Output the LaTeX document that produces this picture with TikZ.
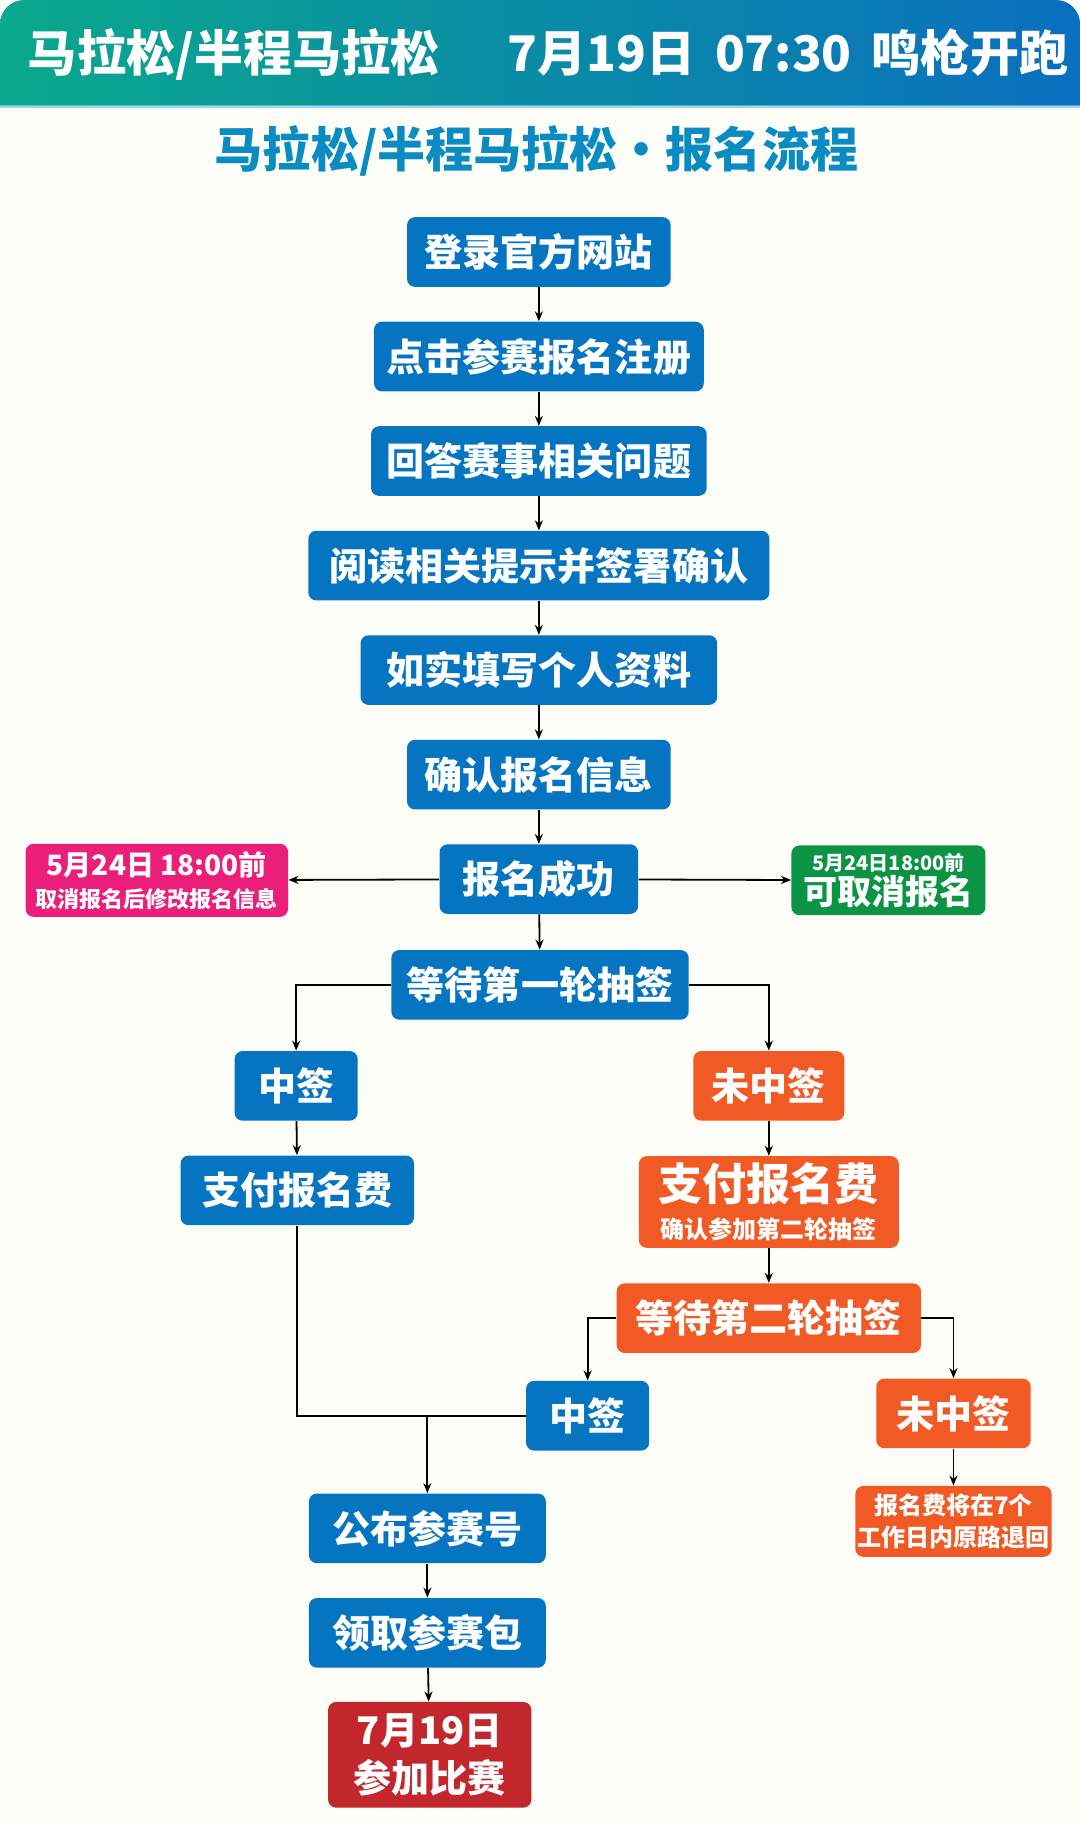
\documentclass[tikz,border=0pt]{standalone}
\usepackage{fontspec}
\setmainfont{Noto Sans CJK SC}
\usetikzlibrary{arrows.meta}
\definecolor{bgc}{HTML}{FDFDF8}
\definecolor{stepblue}{HTML}{0675C1}
\definecolor{failorange}{HTML}{F15A24}
\definecolor{notepink}{HTML}{EB1E79}
\definecolor{notegreen}{HTML}{0B9444}
\definecolor{raced}{HTML}{C1272D}
\definecolor{headteal}{HTML}{0AA88C}
\definecolor{headsky}{HTML}{049DDF}
\definecolor{headdeep}{HTML}{0A6FBE}
\definecolor{titlec}{HTML}{0A8CC2}

\begin{document}
\begin{tikzpicture}[
            x = 0.58pt, y = -0.58pt,
            > = {Stealth[length=5pt, width=4pt]}, % arrow head style
            link/.style = {->, black, line width=0.9pt},
            box/.style = {
                rounded corners = 4pt,
                inner sep = 0pt,
                minimum height = 34.8pt,
                text = white,
                font = \bfseries\fontsize{19}{21}\selectfont,
                align = center
            },
            stepbox/.style = {box, fill = stepblue},
            failbox/.style = {box, fill = failorange}
        ]

        % page and header
        \useasboundingbox (0,0) rectangle (930,1568);
        \fill[bgc] (0,0) rectangle (930,1568);
        \shade[left color=headteal, middle color=headsky, right color=headdeep]
            (0,91) [rounded corners=12pt] -- (0,0) -- (930,0) [sharp corners] -- (930,91) -- cycle;
        \draw[headsky!40, line width=1pt] (0,92) -- (930,92);
        \node[text=white, font=\bfseries\fontsize{24.5}{26}\selectfont, anchor=west] (head) at (18,47)
            {马拉松/半程马拉松\hspace{34pt}7月19日\hspace{10pt}07:30\hspace{10pt}鸣枪开跑};
        \node[text=titlec, font=\bfseries\fontsize{24}{26}\selectfont] (title) at (462,130)
            {马拉松/半程马拉松·报名流程};

        % main steps
        \node[stepbox, minimum width=131.7pt] (login) at (464,217) {登录官方网站};
        \node[stepbox, minimum width=164.7pt] (reg) at (464,307) {点击参赛报名注册};
        \node[stepbox, minimum width=167.6pt] (quiz) at (464,397) {回答赛事相关问题};
        \node[stepbox, minimum width=230.3pt] (sign) at (464,487) {阅读相关提示并签署确认};
        \node[stepbox, minimum width=178.1pt] (info) at (464,577) {如实填写个人资料};
        \node[stepbox, minimum width=131.7pt] (check) at (464,667) {确认报名信息};
        \node[stepbox, minimum width=99.2pt] (done) at (464,757) {报名成功};

        % side notes
        \node[box, fill=notepink, minimum width=131.1pt, minimum height=36.5pt, font=\bfseries\fontsize{12}{16}\selectfont] (edit) at (135,758)
            {{\fontsize{14}{15}\selectfont 5月24日\ 18:00前}\\{\fontsize{11}{13}\selectfont 取消报名后修改报名信息}};
        \node[box, fill=notegreen, minimum width=96.9pt, font=\bfseries\fontsize{12}{17}\selectfont] (cancel) at (765,758)
            {{\fontsize{10}{11}\selectfont 5月24日18:00前}\\{\fontsize{17}{18}\selectfont 可取消报名}};

        % first draw
        \node[stepbox, minimum width=148.5pt] (draw1) at (465,848) {等待第一轮抽签};
        \node[stepbox, minimum width=61.5pt] (win1) at (255,935) {中签};
        \node[failbox, minimum width=75.4pt] (lose1) at (662,935) {未中签};
        \node[stepbox, minimum width=116.6pt] (pay1) at (256,1025) {支付报名费};
        \node[failbox, minimum width=129.9pt, minimum height=45.8pt, font=\bfseries\fontsize{12}{19}\selectfont] (pay2) at (662,1035)
            {{\fontsize{22}{24}\selectfont 支付报名费}\\{\fontsize{12}{13}\selectfont 确认参加第二轮抽签}};

        % second draw
        \node[failbox, minimum width=152pt] (draw2) at (662,1135) {等待第二轮抽签};
        \node[stepbox, minimum width=61.5pt] (win2) at (506,1219) {中签};
        \node[failbox, minimum width=77.1pt] (lose2) at (821,1217) {未中签};
        \node[failbox, minimum width=98pt, minimum height=35.4pt, font=\bfseries\fontsize{12}{16}\selectfont] (refund) at (821,1310)
            {报名费将在7个\\工作日内原路退回};

        % race
        \node[stepbox, minimum width=118.3pt] (bib) at (368,1316) {公布参赛号};
        \node[stepbox, minimum width=118.3pt] (kit) at (368,1406) {领取参赛包};
        \node[box, fill=raced, minimum width=101.5pt, minimum height=52.8pt, font=\bfseries\fontsize{19}{24}\selectfont] (race) at (370,1511)
            {7月19日\\参加比赛};
        \coordinate (join) at (368,1219);

        \draw[link] (login) -- (reg);
        \draw[link] (reg) -- (quiz);
        \draw[link] (quiz) -- (sign);
        \draw[link] (sign) -- (info);
        \draw[link] (info) -- (check);
        \draw[link] (check) -- (done);
        \draw[link] (done) -- (edit);
        \draw[link] (done) -- (cancel);
        \draw[link] (done) -- (draw1);
        \draw[link] (draw1.west) -| (win1);
        \draw[link] (draw1.east) -| (lose1);
        \draw[link] (win1) -- (pay1);
        \draw[link] (lose1) -- (pay2);
        \draw[link] (pay2) -- (draw2);
        \draw[link] (draw2.west) -| (win2);
        \draw[link] (draw2.east) -| (lose2);
        \draw[link] (lose2) -- (refund);
        \draw[link, -] (pay1.south) |- (win2.west);
        \draw[link] (join) -- (bib);
        \draw[link] (bib) -- (kit);
        \draw[link] (kit) -- (race);

  \end{tikzpicture}
\end{document}
